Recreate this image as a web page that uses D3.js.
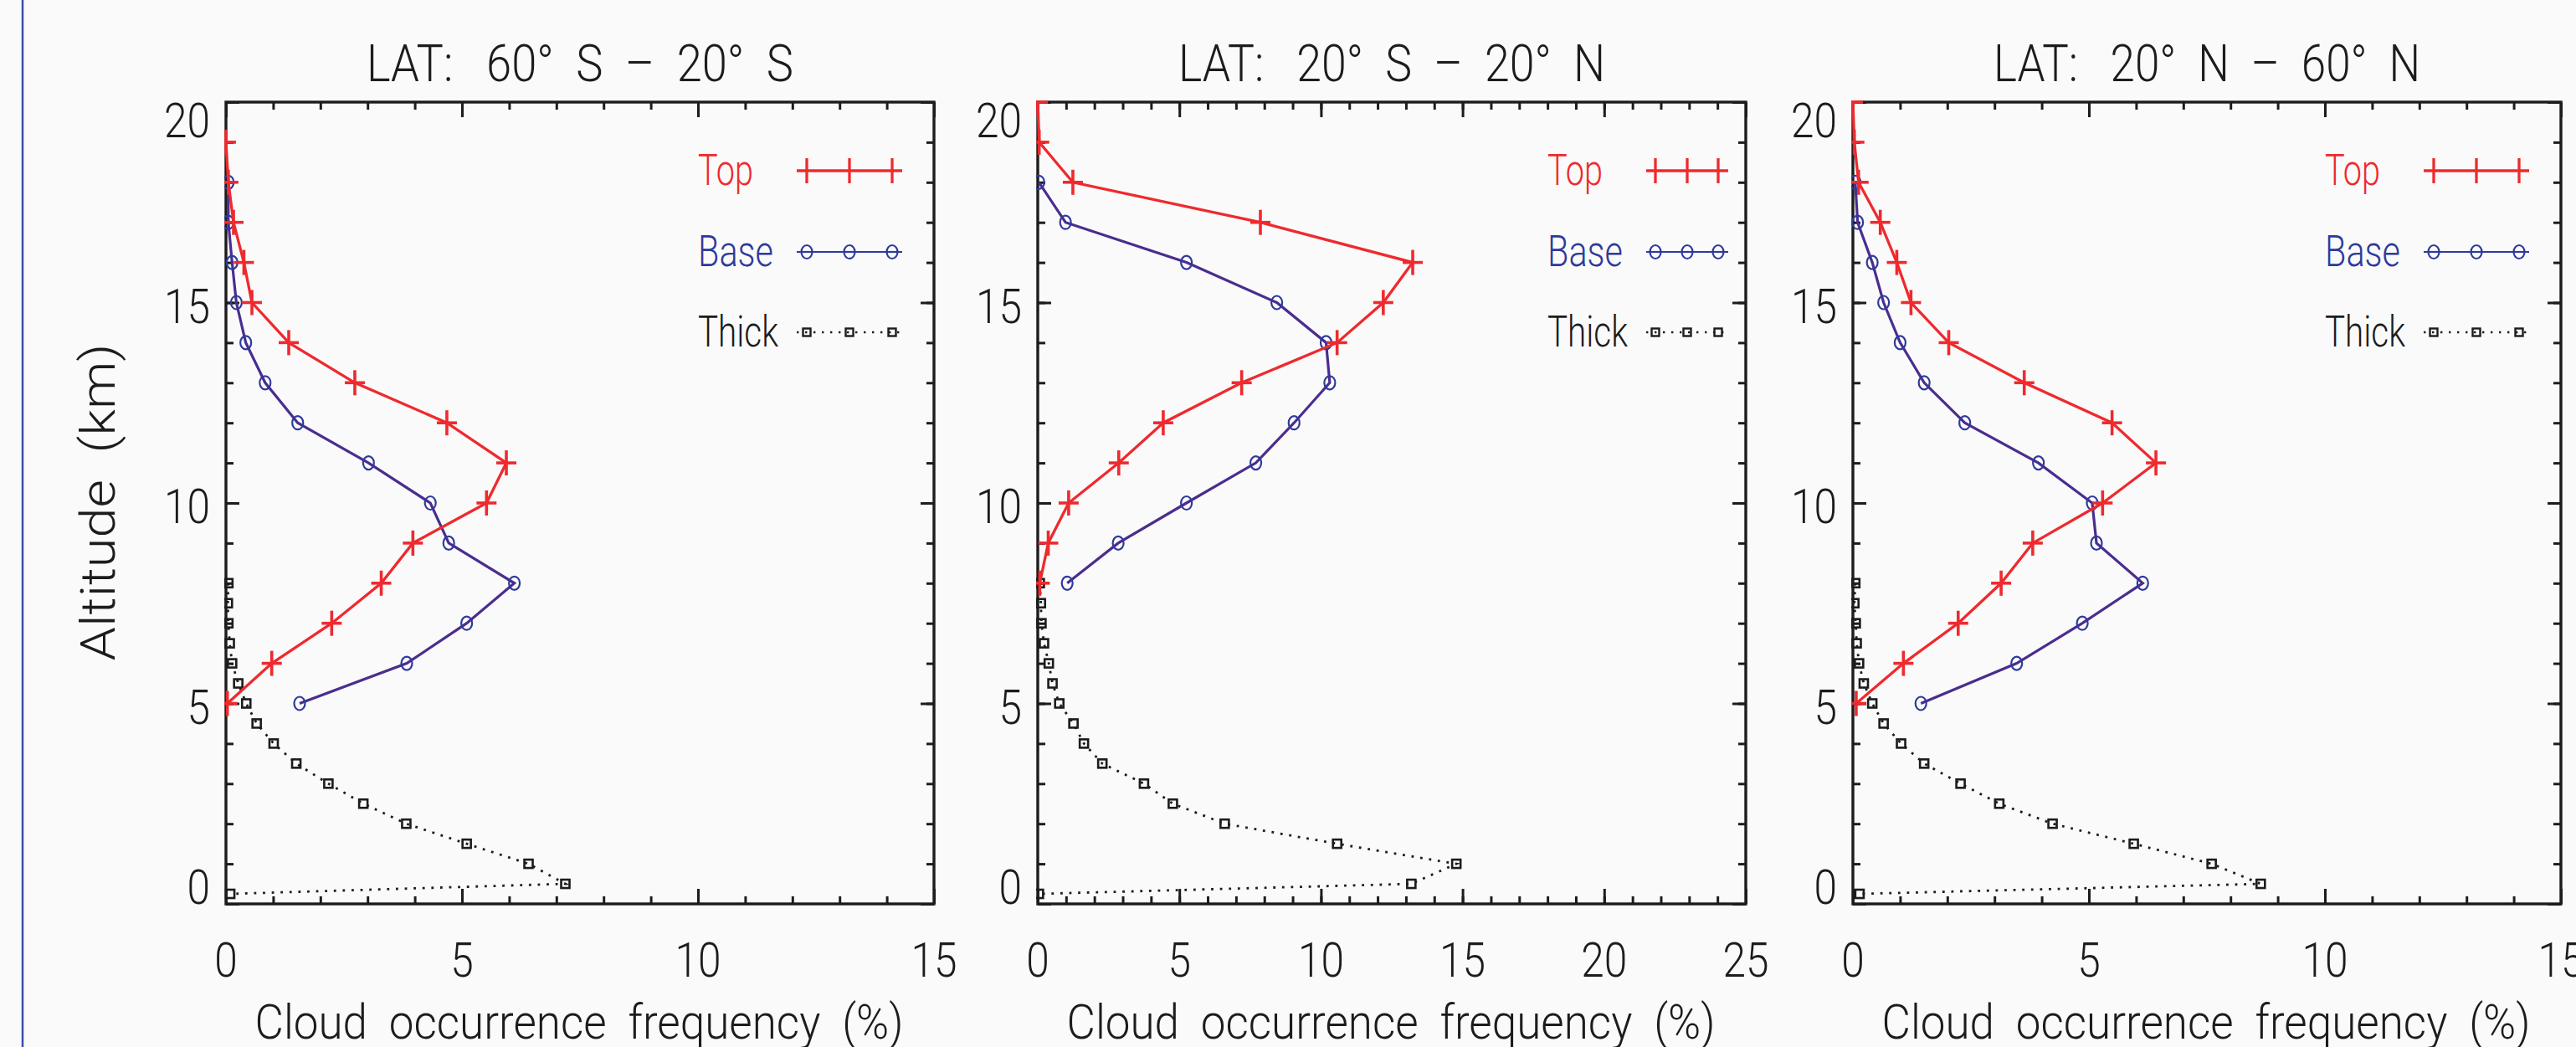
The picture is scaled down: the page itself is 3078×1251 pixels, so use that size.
<!DOCTYPE html>
<html>
<head>
<meta charset="utf-8">
<script src="https://cdn.jsdelivr.net/npm/d3@7"></script>
<style>
body { margin: 0; background: #fafafa; }
text { font-family: Roboto, "Liberation Sans", "DejaVu Sans", sans-serif; font-weight: 300; fill: #1c1c1c; white-space: pre; }
</style>
</head>
<body>
<div id="chart"></div>
<script>
// ---- data (cloud occurrence frequency, %, vs altitude km) ----
var titles = ["LAT:   60°  S  –  20°  S", "LAT:   20°  S  –  20°  N", "LAT:   20°  N  –  60°  N"];
var xMax = [15, 25, 15];
var xTickLabels = [[0, 5, 10, 15], [0, 5, 10, 15, 20, 25], [0, 5, 10, 15]];
var yTickLabels = [0, 5, 10, 15, 20];
var seriesNames = ["Top", "Base", "Thick"];

var thickAlt = [8, 7.5, 7, 6.5, 6, 5.5, 5, 4.5, 4, 3.5, 3, 2.5, 2, 1.5, 1, 0.5, 0.25];

// 60S - 20S
var topAlt1 = [19, 18, 17, 16, 15, 14, 13, 12, 11, 10, 9, 8, 7, 6, 5];
var top1 = [0.0, 0.05, 0.16, 0.38, 0.55, 1.33, 2.73, 4.68, 5.94, 5.52, 3.96, 3.29, 2.24, 0.97, 0.03];
var baseAlt1 = [18, 17, 16, 15, 14, 13, 12, 11, 10, 9, 8, 7, 6, 5];
var base1 = [0.05, 0.05, 0.13, 0.22, 0.42, 0.83, 1.52, 3.02, 4.33, 4.72, 6.11, 5.10, 3.83, 1.56];
var thick1 = [0.05, 0.04, 0.05, 0.08, 0.13, 0.26, 0.43, 0.65, 1.01, 1.49, 2.17, 2.91, 3.82, 5.10, 6.41, 7.19, 0.09];

// 20S - 20N
var topAlt2 = [20, 19, 18, 17, 16, 15, 14, 13, 12, 11, 10, 9, 8];
var top2 = [0.0, 0.05, 1.24, 7.86, 13.24, 12.20, 10.57, 7.20, 4.43, 2.86, 1.09, 0.37, 0.07];
var baseAlt2 = [18, 17, 16, 15, 14, 13, 12, 11, 10, 9, 8];
var base2 = [0.04, 0.98, 5.25, 8.44, 10.18, 10.31, 9.05, 7.70, 5.25, 2.84, 1.04];
var thick2 = [0.07, 0.11, 0.13, 0.22, 0.39, 0.52, 0.76, 1.26, 1.63, 2.28, 3.75, 4.77, 6.60, 10.57, 14.78, 13.19, 0.04];

// 20N - 60N
var topAlt3 = [20, 19, 18, 17, 16, 15, 14, 13, 12, 11, 10, 9, 8, 7, 6, 5];
var top3 = [0.0, 0.03, 0.12, 0.58, 0.93, 1.23, 2.03, 3.63, 5.49, 6.42, 5.29, 3.81, 3.14, 2.23, 1.07, 0.07];
var baseAlt3 = [18, 17, 16, 15, 14, 13, 12, 11, 10, 9, 8, 7, 6, 5];
var base3 = [0.05, 0.10, 0.41, 0.65, 1.00, 1.51, 2.37, 3.93, 5.07, 5.16, 6.14, 4.86, 3.47, 1.44];
var thick3 = [0.05, 0.03, 0.06, 0.08, 0.13, 0.23, 0.41, 0.65, 1.02, 1.51, 2.28, 3.10, 4.23, 5.95, 7.60, 8.64, 0.14];

var panelData = [
  {top: d3.zip(topAlt1, top1), base: d3.zip(baseAlt1, base1), thick: d3.zip(thickAlt, thick1)},
  {top: d3.zip(topAlt2, top2), base: d3.zip(baseAlt2, base2), thick: d3.zip(thickAlt, thick2)},
  {top: d3.zip(topAlt3, top3), base: d3.zip(baseAlt3, base3), thick: d3.zip(thickAlt, thick3)}
];

// ---- layout ----
var W = 3078, H = 1251;
var panelLeft = [270, 1240, 2214];
var plotW = 846, plotH = 958, plotTop = 122;
// legend layout (relative to panel left): text x, line start/end, marker xs
var legendLayout = [
  {tx: 564, x0: 682, x1: 808, mk: [694, 745, 796]},
  {tx: 609, x0: 727, x1: 825, mk: [738, 776, 813]},
  {tx: 564, x0: 682, x1: 808, mk: [694, 745, 796]}
];
var legendWidth = [66, 90, 96];
var red = "#ee2a2e", lineBlue = "#4a2d8f", blue = "#2e3a9c", ink = "#1c1c1c";
var digitW = 27.5;

// squeeze text to the narrow plotting font widths
function fit(sel, w) {
  sel.attr("textLength", w).attr("lengthAdjust", "spacingAndGlyphs");
}

var svg = d3.select("#chart").append("svg")
  .attr("width", W).attr("height", H);

svg.append("rect").attr("width", W).attr("height", H).attr("fill", "#fafafa");

// page frame line on the left
svg.append("line")
  .attr("x1", 27).attr("x2", 27).attr("y1", 0).attr("y2", H)
  .attr("stroke", "#3b4ea3").attr("stroke-width", 2.5);

// y axis title
svg.append("text")
  .attr("transform", "translate(137,600) rotate(-90)")
  .attr("text-anchor", "middle")
  .attr("font-size", 57)
  .call(fit, 379)
  .text("Altitude  (km)");

var y = d3.scaleLinear().domain([0, 20]).range([plotH, 0]);

panelData.forEach(function(pd, i) {
  var x = d3.scaleLinear().domain([0, xMax[i]]).range([0, plotW]);
  var g = svg.append("g").attr("transform", "translate(" + panelLeft[i] + "," + plotTop + ")");

  // ticks (inward), minor every unit, major at labels
  function ticks(axis, tr, vals, size) {
    var a = g.append("g").attr("transform", tr)
      .call(axis.tickValues(vals).tickSize(size).tickSizeOuter(0).tickFormat(""));
    a.select(".domain").remove();
    a.selectAll("line").attr("stroke", ink).attr("stroke-width", 3);
  }
  var xs = d3.range(0, xMax[i] + 1), ys = d3.range(0, 21);
  ticks(d3.axisBottom(x), "translate(0," + plotH + ")", xs, -9);
  ticks(d3.axisBottom(x), "translate(0," + plotH + ")", xTickLabels[i], -18);
  ticks(d3.axisTop(x), "translate(0,0)", xs, -9);
  ticks(d3.axisTop(x), "translate(0,0)", xTickLabels[i], -18);
  ticks(d3.axisLeft(y), "translate(0,0)", ys, -9);
  ticks(d3.axisLeft(y), "translate(0,0)", yTickLabels, -16);
  ticks(d3.axisRight(y), "translate(" + plotW + ",0)", ys, -9);
  ticks(d3.axisRight(y), "translate(" + plotW + ",0)", yTickLabels, -16);

  g.append("rect").attr("width", plotW).attr("height", plotH)
    .attr("fill", "none").attr("stroke", ink).attr("stroke-width", 3.4);

  // tick labels
  g.selectAll(".xl").data(xTickLabels[i]).enter().append("text")
    .attr("x", function(d) { return x(d); })
    .attr("y", plotH + 87)
    .attr("text-anchor", "middle").attr("font-size", 58)
    .attr("textLength", function(d) { return String(d).length * digitW; })
    .attr("lengthAdjust", "spacingAndGlyphs")
    .text(function(d) { return d; });
  g.selectAll(".yl").data(yTickLabels).enter().append("text")
    .attr("x", -19)
    .attr("y", function(d) {
      if (d === 20) return y(d) + 42;
      if (d === 0) return y(d);
      return y(d) + 24;
    })
    .attr("text-anchor", "end").attr("font-size", 58)
    .attr("textLength", function(d) { return String(d).length * digitW; })
    .attr("lengthAdjust", "spacingAndGlyphs")
    .text(function(d) { return d; });

  // titles
  g.append("text").attr("x", plotW / 2).attr("y", 97 - plotTop)
    .attr("text-anchor", "middle").attr("font-size", 62)
    .call(fit, 510)
    .text(titles[i]);
  g.append("text").attr("x", plotW / 2 - 1).attr("y", 1241 - plotTop)
    .attr("text-anchor", "middle").attr("font-size", 58)
    .call(fit, 775)
    .text("Cloud  occurrence  frequency  (%)");

  // data, clipped to the plot box
  var clipId = "clip" + i;
  g.append("clipPath").attr("id", clipId).append("rect")
    .attr("x", -2).attr("y", -2).attr("width", plotW + 4).attr("height", plotH + 4);
  var dg = g.append("g").attr("clip-path", "url(#" + clipId + ")");
  var line = d3.line().x(function(d) { return x(d[1]); }).y(function(d) { return y(d[0]); });

  // Thick: dotted with squares
  dg.append("path").datum(pd.thick).attr("d", line)
    .attr("fill", "none").attr("stroke", ink).attr("stroke-width", 2.8)
    .attr("stroke-dasharray", "2.8,7.8");
  dg.selectAll(".sq").data(pd.thick).enter().append("rect")
    .attr("x", function(d) { return x(d[1]) - 5; })
    .attr("y", function(d) { return y(d[0]) - 5; })
    .attr("width", 10).attr("height", 10)
    .attr("fill", "none").attr("stroke", ink).attr("stroke-width", 2.6);

  // Base: solid with circles
  dg.append("path").datum(pd.base).attr("d", line)
    .attr("fill", "none").attr("stroke", lineBlue).attr("stroke-width", 3.2);
  dg.selectAll(".ci").data(pd.base).enter().append("ellipse")
    .attr("cx", function(d) { return x(d[1]); })
    .attr("cy", function(d) { return y(d[0]); })
    .attr("rx", 6.5).attr("ry", 8)
    .attr("fill", "none").attr("stroke", blue).attr("stroke-width", 2.2);

  // Top: solid with plus signs
  dg.append("path").datum(pd.top).attr("d", line)
    .attr("fill", "none").attr("stroke", red).attr("stroke-width", 3.3);
  var plus = dg.selectAll(".pl").data(pd.top).enter().append("g")
    .attr("transform", function(d) { return "translate(" + x(d[1]) + "," + y(d[0]) + ")"; });
  plus.append("line").attr("x1", -12).attr("x2", 12).attr("stroke", red).attr("stroke-width", 3.6);
  plus.append("line").attr("y1", -15).attr("y2", 15).attr("stroke", red).attr("stroke-width", 3.6);

  // legend
  var L = legendLayout[i];
  var rows = [82, 179, 275];
  var colors = [red, blue, ink];
  seriesNames.forEach(function(name, k) {
    g.append("text").attr("x", L.tx).attr("y", rows[k] + 17)
      .attr("font-size", 52).style("fill", colors[k])
      .call(fit, legendWidth[k])
      .text(name);
    var ln = g.append("line").attr("x1", L.x0).attr("x2", L.x1)
      .attr("y1", rows[k]).attr("y2", rows[k]);
    if (k === 0) ln.attr("stroke", red).attr("stroke-width", 3.3);
    if (k === 1) ln.attr("stroke", blue).attr("stroke-width", 2.2);
    if (k === 2) ln.attr("stroke", ink).attr("stroke-width", 2.4).attr("stroke-dasharray", "2.4,7.6");
    L.mk.forEach(function(mx) {
      if (k === 0) {
        g.append("line").attr("x1", mx).attr("x2", mx).attr("y1", rows[k] - 15).attr("y2", rows[k] + 15)
          .attr("stroke", red).attr("stroke-width", 3.3);
      } else if (k === 1) {
        g.append("ellipse").attr("cx", mx).attr("cy", rows[k]).attr("rx", 6.5).attr("ry", 8)
          .attr("fill", "#fafafa").attr("stroke", blue).attr("stroke-width", 2.2);
        g.append("line").attr("x1", mx - 6.5).attr("x2", mx + 6.5).attr("y1", rows[k]).attr("y2", rows[k])
          .attr("stroke", blue).attr("stroke-width", 2.2);
      } else {
        g.append("rect").attr("x", mx - 4.5).attr("y", rows[k] - 4.5).attr("width", 9).attr("height", 9)
          .attr("fill", "none").attr("stroke", ink).attr("stroke-width", 2.4);
      }
    });
  });
});
</script>
</body>
</html>
